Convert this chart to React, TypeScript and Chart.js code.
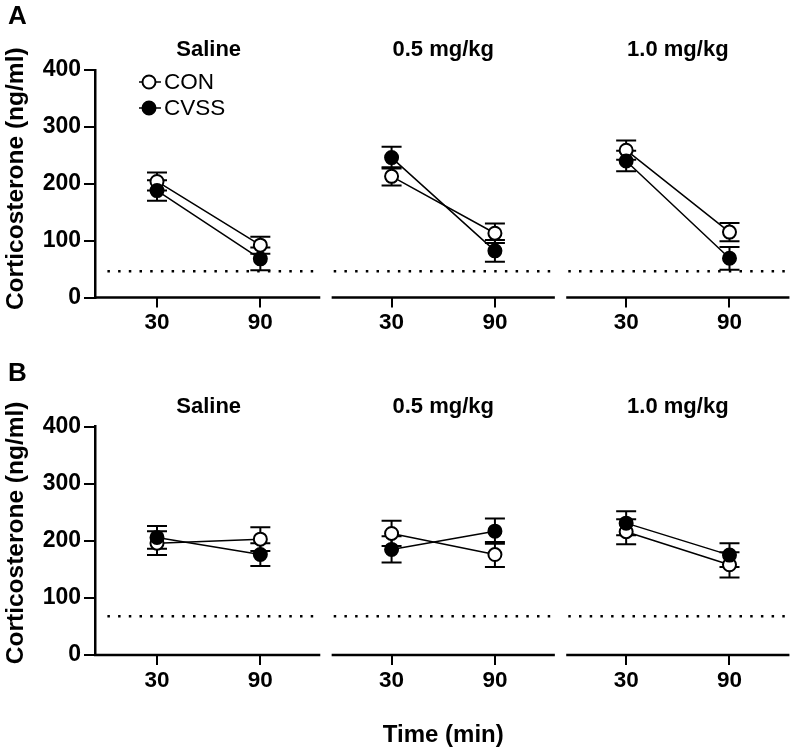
import React, { useEffect, useRef } from "react";
import { Chart, registerables } from "chart.js";
Chart.register(...registerables);

const groupNames = ["Saline", "0.5 mg/kg", "1.0 mg/kg"];
const timeLabels = ["30", "90"];
const seriesNames = ["CON", "CVSS"];

// Panel A (values ordered: Saline30, Saline90, 0.5_30, 0.5_90, 1.0_30, 1.0_90)
const conA = [204, 92, 213, 113, 259, 115];
const conErrA = [16, 15, 16, 17, 17, 16];
const cvssA = [188, 68, 246, 82, 240, 69];
const cvssErrA = [18, 20, 19, 19, 18, 20];
const baselineA = 46;

// Panel B
const conB = [196, 203, 213, 176, 216, 158];
const conErrB = [21, 21, 22, 22, 22, 22];
const cvssB = [206, 176, 185, 217, 231, 175];
const cvssErrB = [20, 20, 23, 22, 21, 21];
const baselineB = 68;

const GROUP_STEP = 2.27;
const X_MIN = -0.6;
const SEG_END = 1.6;
const X_MAX = SEG_END + 2 * GROUP_STEP;
const FONT = "'Liberation Sans', Arial, sans-serif";

function toPoints(values: number[]) {
  const pts: any[] = [];
  groupNames.forEach((_, g) => {
    timeLabels.forEach((__, t) => {
      pts.push({ x: g * GROUP_STEP + t, y: values[g * 2 + t] });
    });
    if (g < groupNames.length - 1) pts.push({ x: g * GROUP_STEP + 1.5, y: null });
  });
  return pts;
}

function toErrs(errs: number[]) {
  const e: any[] = [];
  groupNames.forEach((_, g) => {
    timeLabels.forEach((__, t) => e.push(errs[g * 2 + t]));
    if (g < groupNames.length - 1) e.push(null);
  });
  return e;
}

function baselinePoints(v: number) {
  const pts: any[] = [];
  groupNames.forEach((_, g) => {
    const start = g === 0 ? -0.48 : g * GROUP_STEP - 0.56;
    pts.push({ x: start, y: v });
    pts.push({ x: g * GROUP_STEP + SEG_END - 0.02, y: v });
    if (g < groupNames.length - 1) pts.push({ x: g * GROUP_STEP + SEG_END + 0.02, y: null });
  });
  return pts;
}

const tickPositions: number[] = [];
groupNames.forEach((_, g) => timeLabels.forEach((__, t) => tickPositions.push(g * GROUP_STEP + t)));

type PanelOpts = {
  letter: string;
  con: number[];
  conErr: number[];
  cvss: number[];
  cvssErr: number[];
  baseline: number;
  height: number;
  areaTop: number;
  areaHeight: number;
  letterY: number;
  subtitleY: number;
  showLegend: boolean;
  showXTitle: boolean;
  xTitleY: number;
  yTitleOffset: number;
};

function makeConfig(o: PanelOpts): any {
  const decor = {
    id: "decor",
    beforeDatasetsDraw(chart: any) {
      const ctx = chart.ctx;
      const xs = chart.scales.x;
      const ys = chart.scales.y;
      ctx.save();
      ctx.strokeStyle = "#000";
      ctx.lineWidth = 2;
      chart.data.datasets.forEach((ds: any) => {
        if (!ds.errors) return;
        ds.data.forEach((p: any, i: number) => {
          const e = ds.errors[i];
          if (p.y == null || e == null) return;
          const px = xs.getPixelForValue(p.x);
          const top = ys.getPixelForValue(p.y + e);
          const bot = ys.getPixelForValue(p.y - e);
          ctx.beginPath();
          ctx.moveTo(px, top);
          ctx.lineTo(px, bot);
          ctx.moveTo(px - 10, top);
          ctx.lineTo(px + 10, top);
          ctx.moveTo(px - 10, bot);
          ctx.lineTo(px + 10, bot);
          ctx.stroke();
        });
      });
      ctx.restore();
    },
    afterDraw(chart: any) {
      const ctx = chart.ctx;
      const xs = chart.scales.x;
      const ca = chart.chartArea;
      ctx.save();
      ctx.fillStyle = "#000";
      ctx.strokeStyle = "#000";
      // panel letter
      ctx.font = `bold 26px ${FONT}`;
      ctx.textAlign = "left";
      ctx.textBaseline = "middle";
      ctx.fillText(o.letter, 8, o.letterY);
      // subtitles
      ctx.font = `bold 22px ${FONT}`;
      ctx.textAlign = "center";
      groupNames.forEach((name, g) => {
        const a = xs.getPixelForValue(g * GROUP_STEP + X_MIN);
        const b = xs.getPixelForValue(g * GROUP_STEP + SEG_END);
        ctx.fillText(name, (a + b) / 2, o.subtitleY);
      });
      // segmented x axis
      ctx.lineWidth = 2.5;
      groupNames.forEach((_, g) => {
        const a = g === 0 ? ca.left - 1 : xs.getPixelForValue(g * GROUP_STEP + X_MIN + 0.02);
        const b = xs.getPixelForValue(g * GROUP_STEP + SEG_END - 0.02);
        ctx.beginPath();
        ctx.moveTo(a, ca.bottom);
        ctx.lineTo(b, ca.bottom);
        ctx.stroke();
      });
      // y title
      ctx.save();
      ctx.translate(16, (ca.top + ca.bottom) / 2 + o.yTitleOffset);
      ctx.rotate(-Math.PI / 2);
      ctx.font = `bold 24.5px ${FONT}`;
      ctx.textAlign = "center";
      ctx.textBaseline = "middle";
      ctx.fillText("Corticosterone (ng/ml)", 0, 0);
      ctx.restore();
      // x title
      if (o.showXTitle) {
        ctx.font = `bold 24px ${FONT}`;
        ctx.textAlign = "center";
        ctx.textBaseline = "middle";
        ctx.fillText("Time (min)", (ca.left + ca.right) / 2, o.xTitleY);
      }
      // legend
      if (o.showLegend) {
        const items = [
          { label: seriesNames[0], fill: "#fff", y: 82 },
          { label: seriesNames[1], fill: "#000", y: 108 },
        ];
        items.forEach((it) => {
          ctx.lineWidth = 1.5;
          ctx.beginPath();
          ctx.moveTo(139, it.y);
          ctx.lineTo(161, it.y);
          ctx.stroke();
          ctx.beginPath();
          ctx.arc(149, it.y, 6.5, 0, Math.PI * 2);
          ctx.fillStyle = it.fill;
          ctx.fill();
          ctx.lineWidth = 2;
          ctx.stroke();
          ctx.fillStyle = "#000";
          ctx.font = `22.5px ${FONT}`;
          ctx.textAlign = "left";
          ctx.textBaseline = "middle";
          ctx.fillText(it.label, 164, it.y + 1);
        });
      }
      ctx.restore();
    },
  };

  return {
    type: "line",
    data: {
      datasets: [
        {
          label: seriesNames[1],
          data: toPoints(o.cvss),
          errors: toErrs(o.cvssErr),
          borderColor: "#000",
          borderWidth: 1.5,
          pointRadius: 6.5,
          pointBackgroundColor: "#000",
          pointBorderColor: "#000",
          pointBorderWidth: 2,
          spanGaps: false,
          order: 0,
        },
        {
          label: seriesNames[0],
          data: toPoints(o.con),
          errors: toErrs(o.conErr),
          borderColor: "#000",
          borderWidth: 1.5,
          pointRadius: 6.5,
          pointBackgroundColor: "#fff",
          pointBorderColor: "#000",
          pointBorderWidth: 2,
          spanGaps: false,
          order: 1,
        },
        {
          label: "baseline",
          data: baselinePoints(o.baseline),
          borderColor: "#000",
          borderWidth: 2.5,
          borderDash: [2.5, 8.2],
          pointRadius: 0,
          spanGaps: false,
          order: 2,
        },
      ],
    },
    options: {
      animation: false,
      responsive: false,
      devicePixelRatio: 1,
      events: [],
      layout: { padding: { top: o.areaTop, left: 0, right: 2, bottom: 0 } },
      plugins: { legend: { display: false }, tooltip: { enabled: false }, title: { display: false } },
      scales: {
        x: {
          type: "linear",
          min: X_MIN,
          max: X_MAX,
          afterBuildTicks: (s: any) => {
            s.ticks = tickPositions.map((v) => ({ value: v }));
          },
          afterFit: (s: any) => {
            s.height = o.height - o.areaTop - o.areaHeight;
          },
          border: { display: false },
          grid: {
            display: true,
            drawOnChartArea: false,
            drawTicks: true,
            tickLength: 10,
            color: "#000",
            lineWidth: 2,
          },
          ticks: {
            autoSkip: false,
            maxRotation: 0,
            padding: 2,
            color: "#000",
            font: { family: FONT, size: 22.5, weight: "bold" },
            callback: (_v: any, i: number) => timeLabels[i % 2],
          },
        },
        y: {
          type: "linear",
          min: 0,
          max: 400,
          afterFit: (s: any) => {
            s.width = 95;
          },
          border: { display: true, color: "#000", width: 2.5 },
          grid: {
            display: true,
            drawOnChartArea: false,
            drawTicks: true,
            tickLength: 11,
            color: "#000",
            lineWidth: 2,
          },
          ticks: {
            stepSize: 100,
            padding: 3,
            color: "#000",
            font: { family: FONT, size: 23, weight: "bold" },
          },
        },
      },
    },
    plugins: [decor],
  };
}

function Panel({ opts, top }: { opts: PanelOpts; top: number }) {
  const ref = useRef<HTMLCanvasElement | null>(null);
  useEffect(() => {
    if (!ref.current) return;
    const chart = new Chart(ref.current, makeConfig(opts));
    return () => chart.destroy();
  }, []);
  return (
    <canvas
      ref={ref}
      width={800}
      height={opts.height}
      style={{ position: "absolute", left: 0, top, width: 800, height: opts.height, display: "block" }}
    />
  );
}

export default function App() {
  const panelA: PanelOpts = {
    letter: "A",
    con: conA,
    conErr: conErrA,
    cvss: cvssA,
    cvssErr: cvssErrA,
    baseline: baselineA,
    height: 350,
    areaTop: 70,
    areaHeight: 227.5,
    letterY: 17,
    subtitleY: 50,
    showLegend: true,
    showXTitle: false,
    xTitleY: 0,
    yTitleOffset: -5,
  };
  const panelB: PanelOpts = {
    letter: "B",
    con: conB,
    conErr: conErrB,
    cvss: cvssB,
    cvssErr: cvssErrB,
    baseline: baselineB,
    height: 403,
    areaTop: 76.7,
    areaHeight: 228.3,
    letterY: 24,
    subtitleY: 57,
    showLegend: false,
    showXTitle: true,
    xTitleY: 385,
    yTitleOffset: -8,
  };
  return (
    <div style={{ position: "absolute", left: 0, top: 0, width: 800, height: 753, background: "#fff" }}>
      <Panel opts={panelA} top={0} />
      <Panel opts={panelB} top={350} />
    </div>
  );
}
